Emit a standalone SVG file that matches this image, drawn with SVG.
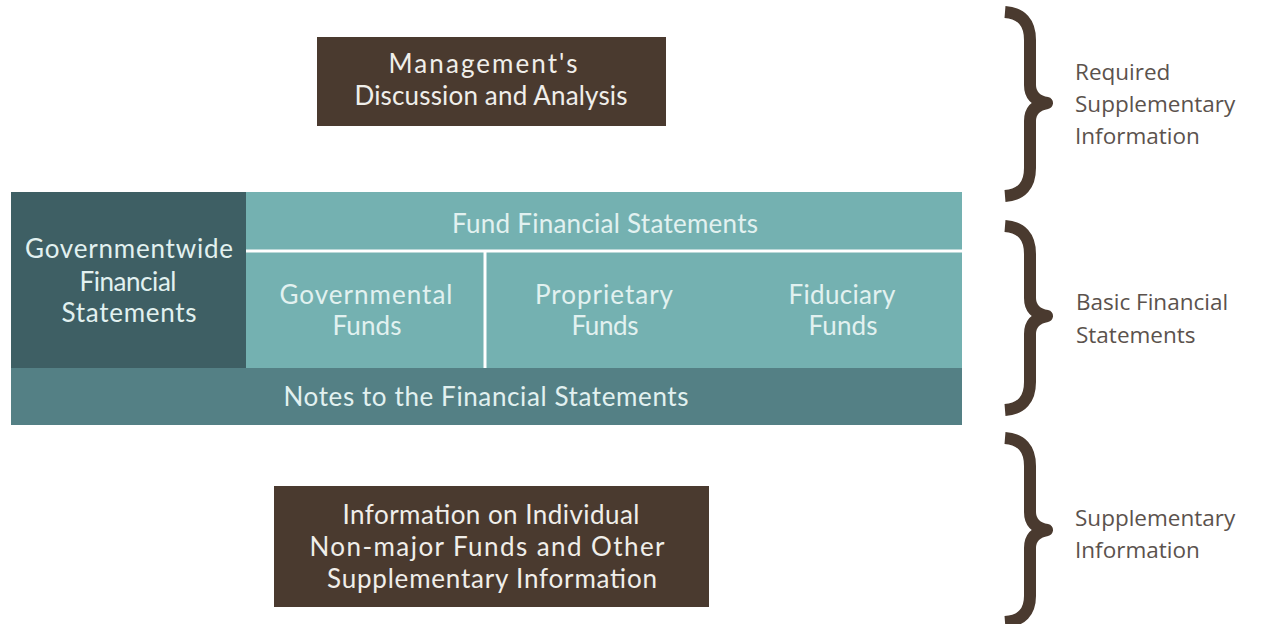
<svg xmlns="http://www.w3.org/2000/svg" width="1270" height="624" viewBox="0 0 1270 624">
<style>
.brown{fill:#4a3a2f}
.t{font-family:Lato,"Open Sans",sans-serif;font-size:26px;fill:#f0eeea;text-anchor:middle}
.tt{font-family:Lato,"Open Sans",sans-serif;font-size:26px;fill:#e2f1f0;text-anchor:middle}
.lbl{font-family:"Open Sans",Lato,sans-serif;font-size:22.5px;fill:#5b524d}
.brace{fill:none;stroke:#4a3a2f;stroke-width:12;stroke-linejoin:round}
.sep{stroke:#ffffff;stroke-width:3}
</style>
<rect width="1270" height="624" fill="#ffffff"/>
<g id="mda">
<rect class="brown" x="317" y="37" width="349" height="89"/>
<text class="t" x="483" y="73" textLength="189" lengthAdjust="spacing">Management's</text>
<text class="t" x="491" y="105" textLength="273" lengthAdjust="spacing">Discussion and Analysis</text>
</g>
<g id="basic">
<rect x="11" y="192" width="951" height="233" fill="#74b1b1"/>
<g id="govwide">
<rect x="11" y="192" width="235" height="176" fill="#3e5f64"/>
<text class="tt" x="129" y="258" textLength="208" lengthAdjust="spacing">Governmentwide</text>
<text class="tt" x="128" y="291" textLength="97" lengthAdjust="spacing">Financial</text>
<text class="tt" x="129" y="322" textLength="135" lengthAdjust="spacing">Statements</text>
</g>
<g id="fund">
<text class="tt" x="605" y="233" textLength="306" lengthAdjust="spacing">Fund Financial Statements</text>
</g>
<g id="governmental">
<text class="tt" x="366" y="304" textLength="173" lengthAdjust="spacing">Governmental</text>
<text class="tt" x="367" y="335" textLength="69" lengthAdjust="spacing">Funds</text>
</g>
<g id="proprietary">
<text class="tt" x="604" y="304" textLength="138" lengthAdjust="spacing">Proprietary</text>
<text class="tt" x="605" y="335" textLength="67" lengthAdjust="spacing">Funds</text>
</g>
<g id="fiduciary">
<text class="tt" x="842" y="304" textLength="107" lengthAdjust="spacing">Fiduciary</text>
<text class="tt" x="843" y="335" textLength="69" lengthAdjust="spacing">Funds</text>
</g>
<g id="notes">
<rect x="11" y="368" width="951" height="57" fill="#548085"/>
<text class="tt" x="486" y="406" textLength="405" lengthAdjust="spacing">Notes to the Financial Statements</text>
</g>
<line class="sep" x1="246" y1="251" x2="962" y2="251"/>
<line class="sep" x1="485" y1="251" x2="485" y2="368"/>
</g>
<g id="other">
<rect class="brown" x="274" y="486" width="435" height="121"/>
<text class="t" x="491" y="524" textLength="297" lengthAdjust="spacing">Information on Individual</text>
<text class="t" x="487" y="556" textLength="355" lengthAdjust="spacing">Non-major Funds and Other</text>
<text class="t" x="492" y="588" textLength="330" lengthAdjust="spacing">Supplementary Information</text>
</g>
<g id="connectors">
<path class="brace" d="M1005,12 Q1030,14 1030,40 L1030,85 Q1030,100 1047,103 Q1030,106 1030,121 L1030,168 Q1030,194 1005,196"/>
<path class="brace" d="M1005,226 Q1030,228 1030,254 L1030,298 Q1030,313 1047,316 Q1030,319 1030,334 L1030,382 Q1030,408 1005,410"/>
<path class="brace" d="M1005,438 Q1030,440 1030,466 L1030,512 Q1030,527 1047,530 Q1030,533 1030,548 L1030,596 Q1030,620 1005,622"/>
</g>
<g id="labels">
<text class="lbl" x="1075" y="80">Required</text>
<text class="lbl" x="1075" y="112">Supplementary</text>
<text class="lbl" x="1075" y="144">Information</text>
<text class="lbl" x="1076" y="310">Basic Financial</text>
<text class="lbl" x="1076" y="343">Statements</text>
<text class="lbl" x="1075" y="526">Supplementary</text>
<text class="lbl" x="1075" y="558">Information</text>
</g>
</svg>
